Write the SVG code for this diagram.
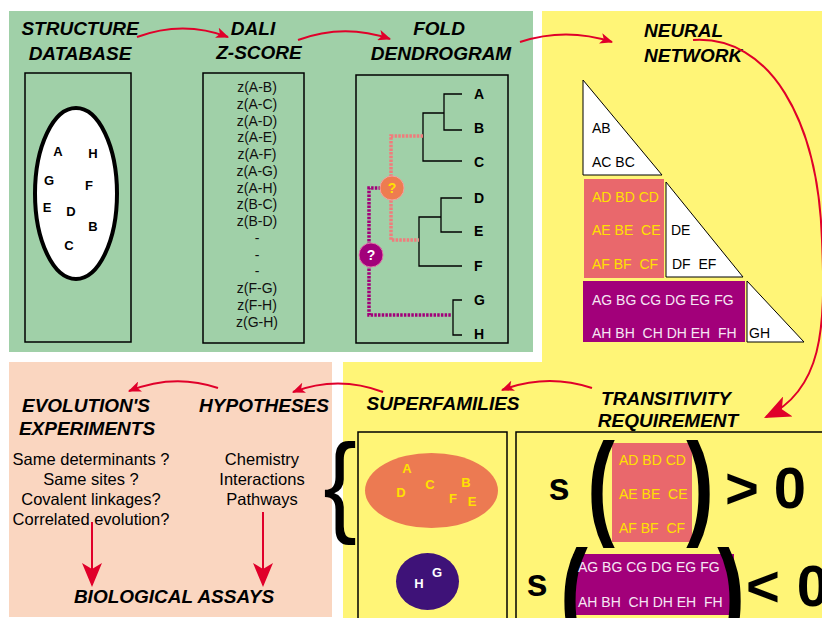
<svg xmlns="http://www.w3.org/2000/svg" width="822" height="618" viewBox="0 0 822 618">
<style>
text{font-family:"Liberation Sans",Arial,sans-serif;}
.t{font-weight:bold;font-style:italic;font-size:19px;fill:#000;}
.c{text-anchor:middle;}
.z{font-size:14px;fill:#111;text-anchor:middle;}
.lt{font-weight:bold;font-size:13px;fill:#000;text-anchor:middle;}
.leaf{font-weight:bold;font-size:14px;fill:#000;}
.nn{font-size:14px;}
.bx{fill:none;stroke:#000;stroke-width:1.5;}
.tri{fill:#fff;stroke:#000;stroke-width:1;}
.den{fill:none;stroke:#000;stroke-width:1.3;}
.dsal{fill:none;stroke:#f07c7c;stroke-width:3.5;stroke-dasharray:2.5 1.2;}
.dmag{fill:none;stroke:#a2007a;stroke-width:3.5;stroke-dasharray:2.5 1.2;}
.arr{fill:none;stroke:#e0002a;stroke-width:2;}
.body{font-size:16.5px;fill:#000;text-anchor:middle;}
.big{font-weight:bold;fill:#000;text-anchor:middle;}
.yl{fill:#ffe000;}
.wt{fill:#f6e6f4;}
</style>
<defs>
<marker id="ah" viewBox="0 0 12 10" refX="11" refY="5" markerWidth="13" markerHeight="11" markerUnits="userSpaceOnUse" orient="auto">
<path d="M0,0 L12,5 L0,10 L3,5 z" fill="#e0002a"/>
</marker>
<marker id="ahL" viewBox="0 0 12 10" refX="11" refY="5" markerWidth="24" markerHeight="20" markerUnits="userSpaceOnUse" orient="auto">
<path d="M0,0 L12,5 L0,10 L3,5 z" fill="#e0002a"/>
</marker>
<marker id="ahB" viewBox="0 0 12 10" refX="11" refY="5" markerWidth="28" markerHeight="22" markerUnits="userSpaceOnUse" orient="auto">
<path d="M0,0 L12,5 L0,10 L3,5 z" fill="#e0002a"/>
</marker>
</defs>
<rect width="822" height="618" fill="#fff"/>
<!-- panels -->
<rect x="9" y="11" width="524" height="341" fill="#a0d0a8"/>
<path d="M542,11 H822 V618 H343 V362 H542 z" fill="#fff577"/>
<rect x="9" y="362" width="323" height="255" fill="#fad6c0"/>

<g id="structure-database">
<text class="t c" x="80" y="35">STRUCTURE</text>
<text class="t c" x="80" y="60">DATABASE</text>
<rect class="bx" x="25" y="73" width="106" height="269"/>
<ellipse cx="76" cy="193.5" rx="41" ry="85.5" fill="#fff" stroke="#000" stroke-width="4"/>
<text class="lt" x="58" y="156">A</text>
<text class="lt" x="93" y="158">H</text>
<text class="lt" x="49" y="185">G</text>
<text class="lt" x="89" y="190">F</text>
<text class="lt" x="47" y="212">E</text>
<text class="lt" x="71" y="216">D</text>
<text class="lt" x="93" y="231">B</text>
<text class="lt" x="69" y="250">C</text>
</g>

<g id="dali-zscore">
<text class="t c" x="253" y="35">DALI</text>
<text class="t c" x="259" y="59">Z-SCORE</text>
<rect class="bx" x="203" y="73" width="101" height="270"/>
<text class="z" x="257" y="92">z(A-B)</text>
<text class="z" x="257" y="108.8">z(A-C)</text>
<text class="z" x="257" y="125.5">z(A-D)</text>
<text class="z" x="257" y="142.3">z(A-E)</text>
<text class="z" x="257" y="159">z(A-F)</text>
<text class="z" x="257" y="175.8">z(A-G)</text>
<text class="z" x="257" y="192.5">z(A-H)</text>
<text class="z" x="257" y="209.3">z(B-C)</text>
<text class="z" x="257" y="226">z(B-D)</text>
<text class="z" x="257" y="242.8">-</text>
<text class="z" x="257" y="259.5">-</text>
<text class="z" x="257" y="276.3">-</text>
<text class="z" x="257" y="293">z(F-G)</text>
<text class="z" x="257" y="309.8">z(F-H)</text>
<text class="z" x="257" y="326.5">z(G-H)</text>
</g>

<g id="fold-dendrogram">
<text class="t c" x="439" y="35">FOLD</text>
<text class="t c" x="441" y="60">DENDROGRAM</text>
<rect class="bx" x="356" y="75" width="152" height="268"/>
<path class="den" d="M462,94 H444 V130 H462 M444,113 H423 V161 H462 M462,198 H441 V232 H462 M441,217 H419 V266 H462 M462,300 H453 V335 H462"/>
<path class="dsal" d="M423,136 H391 V240 H419"/>
<path class="dmag" d="M381,188 H369 V315 H452"/>
<circle cx="392" cy="188" r="12" fill="#ee7c50" stroke="#f4a0a0" stroke-width="1"/>
<text x="392" y="193" font-weight="bold" font-size="14" fill="#ffe000" text-anchor="middle">?</text>
<circle cx="371" cy="255" r="12" fill="#a2007a" stroke="#e070a8" stroke-width="1"/>
<text x="371" y="260" font-weight="bold" font-size="14" fill="#fff" text-anchor="middle">?</text>
<text class="leaf" x="474" y="99">A</text>
<text class="leaf" x="474" y="133">B</text>
<text class="leaf" x="474" y="167">C</text>
<text class="leaf" x="474" y="203">D</text>
<text class="leaf" x="474" y="236">E</text>
<text class="leaf" x="474" y="271">F</text>
<text class="leaf" x="474" y="305">G</text>
<text class="leaf" x="474" y="339">H</text>
</g>

<g id="neural-network">
<text class="t" x="644" y="37">NEURAL</text>
<text class="t" x="644" y="62">NETWORK</text>
<polygon class="tri" points="583,80 583,175 662,175"/>
<text class="nn" x="592" y="133" fill="#000">AB</text>
<text class="nn" x="592" y="167" fill="#000">AC BC</text>
<rect x="584" y="179" width="80" height="99" fill="#e9686c"/>
<text class="nn yl" x="592" y="202" xml:space="preserve">AD BD CD</text>
<text class="nn yl" x="592" y="235" xml:space="preserve">AE BE  CE</text>
<text class="nn yl" x="592" y="269" xml:space="preserve">AF BF  CF</text>
<polygon class="tri" points="666,182 666,277 743,277"/>
<text class="nn" x="671" y="235" fill="#000">DE</text>
<text class="nn" x="672" y="269" fill="#000" xml:space="preserve">DF  EF</text>
<rect x="583" y="281" width="162" height="61" fill="#a2007a"/>
<text class="nn wt" x="592" y="305" xml:space="preserve">AG BG CG DG EG FG</text>
<text class="nn wt" x="592" y="338" xml:space="preserve">AH BH  CH DH EH  FH</text>
<polygon class="tri" points="747,281 747,342 804,342"/>
<text class="nn" x="749" y="338" fill="#000">GH</text>
</g>

<g id="transitivity-requirement">
<text class="t c" x="666" y="405">TRANSITIVITY</text>
<text class="t c" x="668" y="427">REQUIREMENT</text>
<rect class="bx" x="516" y="432" width="320" height="200"/>
<text class="big" x="559" y="500" font-size="38">s</text>
<rect x="612" y="443" width="80" height="99" fill="#e9686c"/>
<text class="big" font-size="115" transform="translate(601,524) scale(0.72,1)">(</text>
<text class="nn yl" x="619" y="465" xml:space="preserve">AD BD CD</text>
<text class="nn yl" x="619" y="499" xml:space="preserve">AE BE  CE</text>
<text class="nn yl" x="619" y="533" xml:space="preserve">AF BF  CF</text>
<text class="big" font-size="115" transform="translate(700,524) scale(0.72,1)">)</text>
<text class="big" x="742" y="508" font-size="58">&gt;</text>
<text class="big" x="790" y="508" font-size="58">0</text>
<text class="big" x="537" y="596" font-size="38">s</text>
<rect x="573" y="554" width="161" height="61" fill="#a2007a"/>
<text class="big" font-size="115" transform="translate(574,631) scale(0.72,1)">(</text>
<text class="big" font-size="115" transform="translate(731,631) scale(0.72,1)">)</text>
<text class="nn wt" x="578" y="572" xml:space="preserve">AG BG CG DG EG FG</text>
<text class="nn wt" x="578" y="607" xml:space="preserve">AH BH  CH DH EH  FH</text>
<text class="big" x="763" y="606" font-size="58">&lt;</text>
<text class="big" x="813" y="606" font-size="58">0</text>
</g>

<g id="superfamilies">
<text class="t c" x="443" y="410">SUPERFAMILIES</text>
<text font-size="112" fill="#000" text-anchor="middle" transform="translate(340,522) scale(0.9,1)">{</text>
<rect class="bx" x="358" y="432" width="149" height="200"/>
<ellipse cx="431.5" cy="490.5" rx="66.5" ry="37.5" fill="#ec7a52"/>
<text class="lt" x="407" y="473" style="fill:#ffe000">A</text>
<text class="lt" x="401" y="497" style="fill:#ffe000">D</text>
<text class="lt" x="430" y="489" style="fill:#ffe000">C</text>
<text class="lt" x="466" y="487" style="fill:#ffe000">B</text>
<text class="lt" x="453" y="503" style="fill:#ffe000">F</text>
<text class="lt" x="472" y="506" style="fill:#ffe000">E</text>
<ellipse cx="427.5" cy="581.5" rx="31.5" ry="28.5" fill="#3e1278"/>
<text class="lt" x="419" y="588" style="fill:#fff">H</text>
<text class="lt" x="437" y="577" style="fill:#fff">G</text>
</g>

<g id="hypotheses">
<text class="t c" x="264" y="412">HYPOTHESES</text>
<text class="body" x="262" y="465">Chemistry</text>
<text class="body" x="262" y="485">Interactions</text>
<text class="body" x="262" y="505">Pathways</text>
</g>

<g id="evolutions-experiments">
<text class="t c" x="86" y="412">EVOLUTION'S</text>
<text class="t c" x="87" y="435">EXPERIMENTS</text>
<text class="body" x="91" y="465">Same determinants ?</text>
<text class="body" x="91" y="485">Same sites ?</text>
<text class="body" x="91" y="505">Covalent linkages?</text>
<text class="body" x="91" y="525">Correlated evolution?</text>
</g>

<g id="biological-assays">
<text class="t c" x="174" y="603">BIOLOGICAL ASSAYS</text>
</g>

<g id="connectors">
<path class="arr" d="M137,37 Q183,20 228,37" marker-end="url(#ah)"/>
<path class="arr" d="M298,40 Q344,23 390,39" marker-end="url(#ah)"/>
<path class="arr" d="M520,42 Q566,27 612,42" marker-end="url(#ah)"/>
<path class="arr" d="M693,40 C770,35 818,120 822,240 C826,330 822,390 766,417" marker-end="url(#ahB)"/>
<path class="arr" d="M592,388 Q547,373 502,390" marker-end="url(#ah)"/>
<path class="arr" d="M383,392 Q338,375 293,392" marker-end="url(#ah)"/>
<path class="arr" d="M218,388 Q174,373 129,391" marker-end="url(#ah)"/>
<path class="arr" d="M92,522 L92,585" marker-end="url(#ahL)"/>
<path class="arr" d="M263,512 L263,585" marker-end="url(#ahL)"/>
</g>
</svg>
